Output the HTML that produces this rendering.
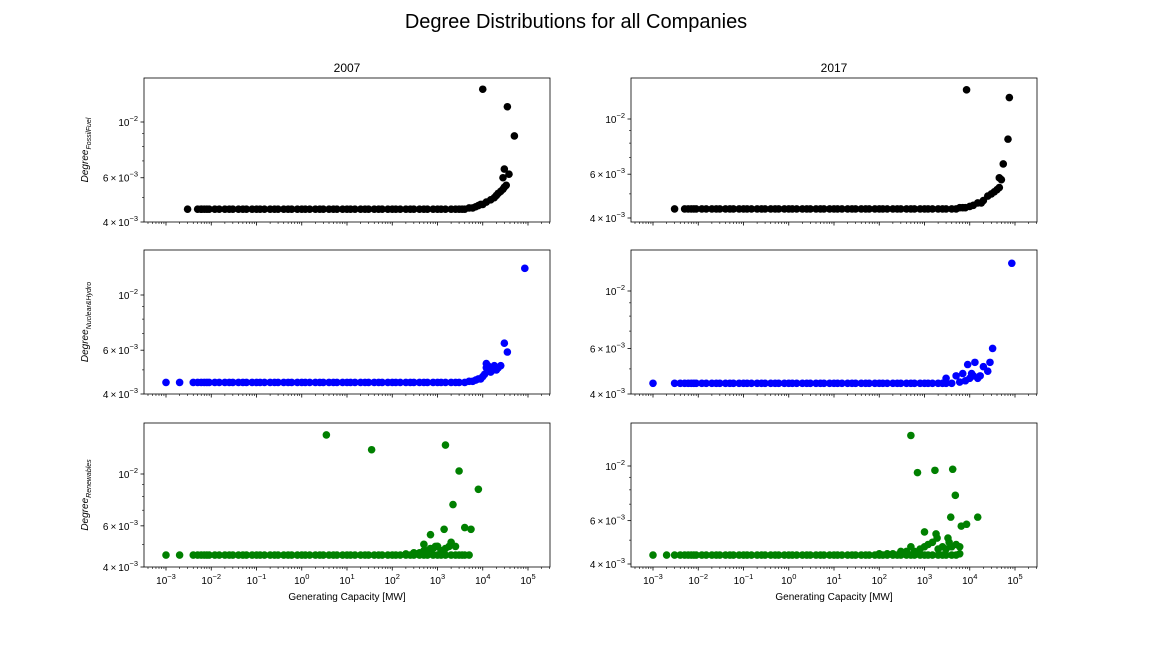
<!DOCTYPE html>
<html><head><meta charset="utf-8"><style>
body{margin:0;background:#fff;}
svg{font-family:"Liberation Sans","DejaVu Sans",sans-serif;}
</style></head><body>
<svg id="c" width="1152" height="648" xmlns="http://www.w3.org/2000/svg">
<rect width="1152" height="648" fill="#fff"/>
<text x="576" y="28" font-size="20" text-anchor="middle">Degree Distributions for all Companies</text>
</svg>
<script>
// shared baseline capacities (MW)
const baseCaps = [0.004,0.005,0.006,0.007,0.008,0.009,0.012,0.015,0.02,0.025,0.03,0.04,0.05,0.06,0.08,0.1,0.12,0.15,0.2,0.25,0.3,0.4,0.5,0.6,0.8,1,1.2,1.5,2,2.5,3,4,5,6,8,10,12,15,20,25,30,40,50,60,80,100,120,150,200,250,300,400,500,600,800,1000,1200,1500,2000,2500,3000];
const fossil07X = [0.003,0.005,0.006,3500,4000,5000,6000,7000,8000,9000,10000,12000,15000,18000,20000,22000,25000,28000,30000,33000,30000,28000,38000,10000,35000,50000];
const fossil07Y = [0.0045,0.0045,0.0045,0.0045,0.0045,0.00455,0.00455,0.0046,0.00465,0.0047,0.0047,0.0048,0.0049,0.005,0.0051,0.0052,0.0053,0.006,0.0055,0.0056,0.0065,0.0054,0.0062,0.0135,0.0115,0.0088];
const fossil17X = [0.003,0.005,4000,5000,6000,7000,8000,10000,12000,15000,18000,20000,25000,30000,35000,40000,45000,50000,55000,45000,8500,75000,70000];
const fossil17Y = [0.00435,0.00435,0.00435,0.00435,0.0044,0.0044,0.0044,0.00445,0.0045,0.0046,0.0046,0.0047,0.0049,0.005,0.0051,0.0052,0.0053,0.0057,0.0066,0.0058,0.0131,0.0122,0.0083];
const nuc07X = [0.001,0.002,4000,5000,6000,7000,8000,9000,10000,11000,12000,13000,15000,17000,20000,22000,25000,12000,30000,35000,85000,18000];
const nuc07Y = [0.00445,0.00445,0.00445,0.0045,0.0045,0.00455,0.0046,0.0046,0.0047,0.0048,0.0053,0.0052,0.0049,0.005,0.005,0.0051,0.0052,0.0051,0.0064,0.0059,0.0128,0.0052];
const nuc17X = [0.001,0.003,4000,5000,6000,8000,9000,10000,12000,13000,15000,17000,20000,25000,28000,32000,85000,7000,11000,3000];
const nuc17Y = [0.0044,0.0044,0.0044,0.0047,0.00445,0.0045,0.0052,0.0046,0.0047,0.0053,0.0046,0.0047,0.0051,0.0049,0.0053,0.006,0.0128,0.0048,0.0048,0.0046];
const ren07X = [0.001,0.002,3500,4000,5000,200,300,400,500,600,700,800,900,1000,1200,1500,1800,2500,3.5,35,1500,3000,8000,2200,1400,4000,5500,700,500,1000,2000];
const ren07Y = [0.0045,0.0045,0.0045,0.0045,0.0045,0.00455,0.0046,0.0046,0.0047,0.0047,0.0048,0.0048,0.0049,0.0049,0.0047,0.0048,0.0049,0.0049,0.0147,0.0127,0.0133,0.0103,0.0086,0.0074,0.0058,0.0059,0.0058,0.0055,0.005,0.0049,0.0051];
const ren17X = [0.001,0.002,0.003,4000,5000,6000,100,150,200,300,400,600,800,1000,1200,1500,2000,2500,3000,4000,5000,6000,500,700,1700,4200,4800,3800,15000,6500,8500,1000,1900,3300,500,1800,3500];
const ren17Y = [0.00435,0.00435,0.00435,0.00435,0.00435,0.0044,0.0044,0.0044,0.0044,0.0045,0.0045,0.0045,0.0046,0.0047,0.0048,0.0049,0.0046,0.0047,0.0046,0.0047,0.0048,0.0047,0.0133,0.0094,0.0096,0.0097,0.0076,0.0062,0.0062,0.0057,0.0058,0.0054,0.0051,0.0051,0.0047,0.0053,0.0049];
const xTickExps = [-3,-2,-1,0,1,2,3,4,5];
const yTickVals = [0.004,0.006,0.01];
const yTickLabels = [["4\u2009\u00d7\u200910","\u22123"],["6\u2009\u00d7\u200910","\u22123"],["10","\u22122"]];

const NS="http://www.w3.org/2000/svg";
const svg=document.getElementById('c');
function el(t,a,p){const e=document.createElementNS(NS,t);for(const k in a)e.setAttribute(k,a[k]);(p||svg).appendChild(e);return e;}

const panels=[
 {x0:144,x1:550,y0:78,y1:222,y4:222,y10:122,xs:fossil07X,ys:fossil07Y,base:0.0045,start:0.006,col:"#000",name:"fossil-2007",lab:"FossilFuel",bottom:false},
 {x0:631,x1:1037,y0:78,y1:222,y4:218,y10:119,xs:fossil17X,ys:fossil17Y,base:0.00435,start:0.006,col:"#000",name:"fossil-2017",bottom:false},
 {x0:144,x1:550,y0:250,y1:394,y4:394,y10:295,xs:nuc07X,ys:nuc07Y,base:0.00445,start:0.004,col:"#0000ff",name:"nuclear-hydro-2007",lab:"Nuclear&Hydro",bottom:false},
 {x0:631,x1:1037,y0:250,y1:394,y4:394,y10:291,xs:nuc17X,ys:nuc17Y,base:0.0044,start:0.004,col:"#0000ff",name:"nuclear-hydro-2017",bottom:false},
 {x0:144,x1:550,y0:423,y1:567,y4:567,y10:474,xs:ren07X,ys:ren07Y,base:0.0045,start:0.004,col:"#008000",name:"renewables-2007",lab:"Renewables",bottom:true},
 {x0:631,x1:1037,y0:423,y1:567,y4:564,y10:466,xs:ren17X,ys:ren17Y,base:0.00435,start:0.004,col:"#008000",name:"renewables-2017",bottom:true}
];

panels.forEach((p,i)=>{
  const g=el('g',{});
  
  
  const xm=v=>p.x0+22+(Math.log10(v)+3)*(p.x1-p.x0-44)/8;
  const ym=v=>p.y4-(Math.log10(v)-Math.log10(0.004))/Math.log10(2.5)*(p.y4-p.y10);
  for(let e=-4;e<=5;e++){
    for(let m=1;m<10;m++){
      const v=m*Math.pow(10,e);const x=xm(v);
      if(x<p.x0||x>p.x1)continue;
      const t=el('line',{x1:x,x2:x,y1:p.y1,y2:p.y1+(m==1?3.5:2),stroke:"#000","stroke-width":m==1?0.8:0.6},g);
      
      
    }
  }
  if(p.bottom){
    xTickExps.forEach(e=>{
      const x=xm(Math.pow(10,e));
      const t=el('text',{x:x,y:p.y1+17,"font-size":10,"text-anchor":"middle"},g);
      
      
      t.innerHTML='10<tspan dy="-5" font-size="7.5">'+(e<0?'\u2212'+(-e):e)+'</tspan>';
    });
    const xl=el('text',{x:(p.x0+p.x1)/2,y:p.y1+33,"font-size":10,"text-anchor":"middle"},g);
    
    
    xl.textContent='Generating Capacity [MW]';
  }
  [0.004,0.005,0.006,0.007,0.008,0.009,0.01,0.02].forEach(v=>{
    const y=ym(v);if(y<p.y0-0.5||y>p.y1+0.5)return;
    const major=yTickVals.includes(v);
    const t=el('line',{x1:p.x0,x2:p.x0-(major?3.5:2),y1:y,y2:y,stroke:"#000","stroke-width":major?0.8:0.6},g);
    
    
  });
  yTickVals.forEach((v,k)=>{
    const y=ym(v);const L=yTickLabels[k];
    const t=el('text',{x:p.x0-6,y:y+4,"font-size":10,"text-anchor":"end"},g);
    
    
    t.innerHTML=L[0]+'<tspan dy="-5" font-size="7.5">'+L[1]+'</tspan>';
  });
  const clip='cp'+i;
  const cp=el('clipPath',{id:clip},g);el('rect',{x:p.x0,y:p.y0,width:p.x1-p.x0,height:p.y1-p.y0},cp);
  const dg=el('g',{"clip-path":"url(#"+clip+")"},g);
  baseCaps.forEach(v=>{
    if(v<p.start)return;
    const c=el('circle',{cx:xm(v),cy:ym(p.base),r:3.8,fill:p.col},dg);
    
    
  });
  p.xs.forEach((v,k)=>{
    const c=el('circle',{cx:xm(v),cy:ym(p.ys[k]),r:3.8,fill:p.col},dg);
    
    
  });
  const fr=el('rect',{x:p.x0,y:p.y0,width:p.x1-p.x0,height:p.y1-p.y0,fill:"none",stroke:"#000","stroke-width":0.8},g);
  
  
  if(i<2){
    const t=el('text',{x:(p.x0+p.x1)/2,y:p.y0-6,"font-size":12,"text-anchor":"middle"},g);
    
    
    t.textContent=i==0?'2007':'2017';
  }
  if(p.lab){
    const cy=(p.y0+p.y1)/2;
    const t=el('text',{x:88,y:cy,"font-size":10,"text-anchor":"middle","font-style":"italic",transform:"rotate(-90 88 "+cy+")"},g);
    
    
    t.innerHTML='Degree<tspan dy="3" font-size="7">'+p.lab.replace('&','&amp;')+'</tspan>';
  }
});
</script>
</body></html>
